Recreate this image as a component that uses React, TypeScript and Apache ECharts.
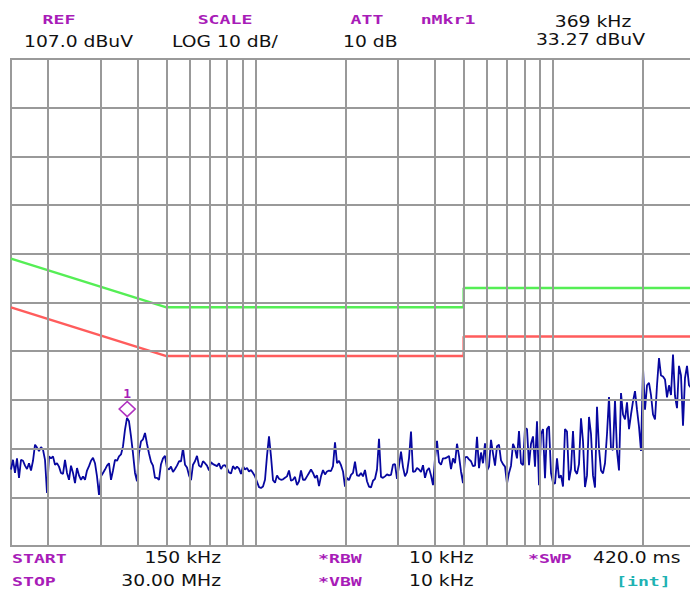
import React, { useEffect, useRef } from "react";
import * as echarts from "echarts";

// Analyzer settings
const START_HZ = 150000;
const STOP_HZ = 30000000;
const REF_DBUV = 107;
const BOTTOM_DBUV = 7;

// Measured trace (dBuV), one value per sweep point, log-spaced sweep 150 kHz .. 30 MHz
const TRACE_DBUV = [
  22.7, 24.7, 22, 25, 21, 24.7, 24.5, 23.5, 22.8, 24, 22.5, 24.5, 27.8, 27.2, 26.5, 27.3, 26.8, 24.7, 17.9, 25.4,
  25, 25.4, 23.7, 24, 23.3, 22, 21.8, 24.7, 22, 20.6, 23.5, 22, 19.9, 23, 21.5, 20.6, 21.3, 20.6, 22.5, 23.4,
  24.5, 25.1, 24, 21.3, 17.5, 21.3, 22, 22.7, 23.5, 24, 20.6, 22.5, 24.7, 24.5, 25.4, 25.8, 27.5, 30.9, 33.3, 32.6,
  29.5, 26, 22, 20.3, 26.1, 28.5, 28.9, 30.2, 28, 26, 24.3, 23.5, 21, 21, 20.6, 23.8, 25, 25.5, 23, 22.7,
  23.3, 22.2, 22.8, 23.5, 24.4, 24.4, 27.1, 23.7, 23.1, 21.5, 20.5, 23.7, 24.4, 25.5, 23.5, 23.2, 24.4, 24, 23.5, 22.5,
  24.2, 23.8, 23.6, 23.4, 24, 22.8, 23.5, 23.6, 23, 22.1, 21.9, 23.4, 22.8, 23.3, 22.9, 21.8, 23.4, 22.7, 23, 22.3,
  22.6, 22, 21.3, 20.2, 19.1, 18.9, 19.2, 20.6, 25.5, 29.5, 25.4, 20.5, 20, 21.5, 20.8, 20.6, 20.7, 21, 21.3, 22.5,
  20.4, 20.6, 21.2, 19.5, 20.3, 22.5, 20.6, 20.6, 21.3, 22, 22.7, 22, 21, 21.5, 19.3, 21.3, 22.6, 21.7, 22.3, 22.5,
  22.4, 23.4, 28.3, 24, 24.5, 23.6, 22.3, 19.2, 21, 20.5, 21.6, 22, 24.3, 21.5, 21.4, 22, 21.3, 22.6, 20.3, 19.2,
  19, 20.4, 20.8, 22.7, 29, 21.2, 21, 21.3, 21.7, 21.5, 21.6, 23.7, 23.8, 20.8, 23.5, 26.4, 23.2, 21.3, 22.1, 25,
  30.5, 22.2, 22.3, 23, 22.7, 22.2, 23.6, 21, 22.5, 23, 21.5, 19.5, 25, 28.6, 24.2, 23.7, 25, 25, 25.2, 25.5,
  22.8, 25, 24, 28, 25.5, 22.3, 19.9, 25.2, 25.3, 24.8, 24.4, 23.4, 23.5, 29.4, 23, 26.2, 24, 28.1, 22.5, 23.3,
  28.8, 26, 23.5, 27.5, 27.8, 24.6, 23.8, 23.3, 19.8, 22, 23.5, 28, 27, 25, 30.6, 24, 23.6, 31.2, 31, 23.6,
  28, 29.5, 23.3, 32.6, 19.5, 30, 31, 20.9, 31, 31.6, 22, 20, 19.8, 25, 21, 21.5, 19.2, 31, 30.5, 20.5,
  22.8, 30.6, 22.5, 21.8, 23.8, 33.2, 28.5, 19.1, 21.5, 33.5, 30, 21.5, 19, 35.6, 27, 22.5, 21.9, 24, 30, 37.6,
  27, 26.7, 37, 26.5, 22.5, 38.4, 34, 33, 36.5, 31, 34, 36.7, 38.8, 35, 31.5, 26.5, 43.6, 35, 40, 40.5,
  38, 34, 33, 40, 45.6, 42, 41.8, 41.2, 37.5, 40, 38, 46.3, 37.8, 35.3, 44, 42, 31.7, 41.5, 44, 40,
  39.5, 41, 40,
];

// EN 55022 class B limit lines
const LIMIT_FREQ_HZ = [150000, 500000, 5000000, 5000000, 30000000];
const QP_LIMIT_DBUV = [66, 56, 56, 60, 60];
const AVG_LIMIT_DBUV = [56, 46, 46, 50, 50];

// Graticule
const FREQ_GRID_HZ = [
  200000, 300000, 400000, 500000, 600000, 700000, 800000, 900000, 1000000,
  2000000, 3000000, 4000000, 5000000, 6000000, 7000000, 8000000, 9000000, 10000000, 20000000,
];
const LEVEL_GRID_DBUV = [17, 27, 37, 47, 57, 67, 77, 87, 97];

// Marker
const MARKER_FREQ_HZ = 369000;
const MARKER_DBUV = 33.27;

const MAGENTA = "#a81cb8";
const BLACK = "#111111";
const TEAL = "#1fb3b3";

function label(text: string, x: number, y: number, kind: "mag" | "blk" | "teal", align: "left" | "center" | "right" = "left") {
  const isBlk = kind === "blk";
  const font = isBlk
    ? "15px 'DejaVu Sans', sans-serif"
    : "bold 13px 'DejaVu Sans Mono', monospace";
  const fill = kind === "mag" ? MAGENTA : kind === "teal" ? TEAL : BLACK;
  return {
    type: "text",
    x,
    y,
    scaleX: isBlk ? 1.25 : 1.4,
    silent: true,
    style: {
      text,
      font,
      fill,
      align,
      verticalAlign: "middle",
      textAlign: align,
      textVerticalAlign: "middle",
    },
  };
}

export default function App() {
  const ref = useRef<HTMLDivElement>(null);

  useEffect(() => {
    if (!ref.current) return;
    const chart = echarts.init(ref.current, undefined, { renderer: "svg" });
    const n = TRACE_DBUV.length;
    const trace = TRACE_DBUV.map((v, i) => [
      START_HZ * Math.pow(STOP_HZ / START_HZ, i / (n - 1)),
      v,
    ]);
    const qp = LIMIT_FREQ_HZ.map((f, i) => [f, QP_LIMIT_DBUV[i]]);
    const avg = LIMIT_FREQ_HZ.map((f, i) => [f, AVG_LIMIT_DBUV[i]]);

    chart.setOption({
      animation: false,
      backgroundColor: "#ffffff",
      grid: {
        left: 11,
        top: 59,
        right: 1,
        bottom: 44,
        show: true,
        borderColor: "#9a9a9a",
        borderWidth: 2,
        backgroundColor: "transparent",
      },
      xAxis: {
        type: "log",
        logBase: 10,
        min: START_HZ,
        max: STOP_HZ,
        axisLine: { show: false },
        axisTick: { show: false },
        axisLabel: { show: false },
        splitLine: { show: false },
        minorSplitLine: { show: false },
      },
      yAxis: {
        type: "value",
        min: BOTTOM_DBUV,
        max: REF_DBUV,
        axisLine: { show: false },
        axisTick: { show: false },
        axisLabel: { show: false },
        splitLine: { show: false },
      },
      series: [
        {
          type: "line",
          name: "graticule",
          data: [[START_HZ, BOTTOM_DBUV]],
          symbol: "none",
          lineStyle: { opacity: 0 },
          silent: true,
          z: 1,
          markLine: {
            silent: true,
            symbol: ["none", "none"],
            label: { show: false },
            lineStyle: { color: "#999999", width: 2, type: "solid" },
            emphasis: { disabled: true },
            data: [
              ...FREQ_GRID_HZ.map((f) => ({ xAxis: f })),
              ...LEVEL_GRID_DBUV.map((v) => ({ yAxis: v })),
            ],
          },
        },
        {
          type: "line",
          name: "QP limit",
          data: qp,
          symbol: "none",
          lineStyle: { color: "#55ee55", width: 2.5 },
          silent: true,
          z: 2,
        },
        {
          type: "line",
          name: "AV limit",
          data: avg,
          symbol: "none",
          lineStyle: { color: "#ff5c5c", width: 2.5 },
          silent: true,
          z: 2,
        },
        {
          type: "line",
          name: "trace",
          data: trace,
          symbol: "none",
          lineStyle: { color: "#0808a0", width: 1.8 },
          silent: true,
          z: 3,
          markPoint: {
            silent: true,
            symbol: "diamond",
            symbolSize: [16, 15],
            symbolOffset: [0, -9],
            itemStyle: { color: "rgba(0,0,0,0)", borderColor: "#b030c0", borderWidth: 1.6 },
            label: {
              show: true,
              position: "top",
              distance: 1,
              formatter: "1",
              color: MAGENTA,
              fontFamily: "'DejaVu Sans Mono', monospace",
              fontWeight: "bold",
              fontSize: 13,
            },
            data: [{ coord: [MARKER_FREQ_HZ, MARKER_DBUV] }],
          },
        },
      ],
      graphic: [
        label("REF", 59, 19, "mag", "center"),
        label("SCALE", 225, 19, "mag", "center"),
        label("ATT", 367, 19, "mag", "center"),
        label("nMkr1", 448, 19, "mag", "center"),
        label("369 kHz", 593, 22, "blk", "center"),
        label("107.0 dBuV", 24, 42, "blk", "left"),
        label("LOG 10 dB/", 172, 42, "blk", "left"),
        label("10 dB", 343, 42, "blk", "left"),
        label("33.27 dBuV", 645, 40, "blk", "right"),
        label("START", 12, 558, "mag", "left"),
        label("150 kHz", 221, 558, "blk", "right"),
        label("*RBW", 318, 558, "mag", "left"),
        label("10 kHz", 409, 558, "blk", "left"),
        label("*SWP", 528, 558, "mag", "left"),
        label("420.0 ms", 593, 558, "blk", "left"),
        label("STOP", 12, 581, "mag", "left"),
        label("30.00 MHz", 221, 581, "blk", "right"),
        label("*VBW", 318, 581, "mag", "left"),
        label("10 kHz", 409, 581, "blk", "left"),
        label("[int]", 616, 581, "teal", "left"),
      ],
    });
    return () => chart.dispose();
  }, []);

  return (
    <div style={{ position: "absolute", left: 0, top: 0, width: 690, height: 590, overflow: "hidden" }}>
      <div ref={ref} style={{ width: 696, height: 590 }} />
    </div>
  );
}
